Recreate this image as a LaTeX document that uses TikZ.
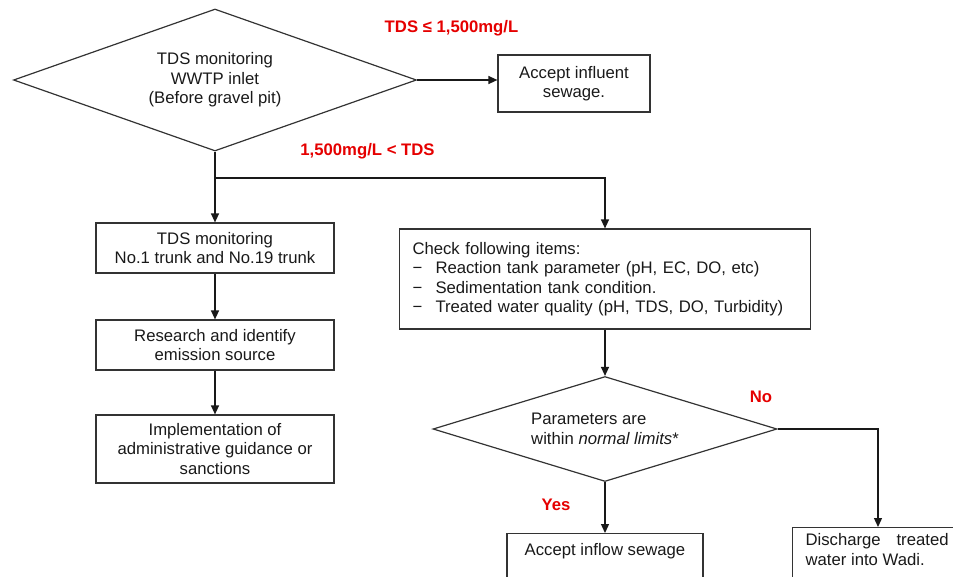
\documentclass[tikz,border=0pt]{standalone}
\usepackage{fontspec}
\setmainfont{Liberation Sans}
\usetikzlibrary{shapes.geometric,arrows.meta}
\begin{document}
\begin{tikzpicture}[x=1pt,y=-1pt,
  every node/.style={font=\fontsize{16.7}{19.5}\selectfont, text=black!90},
  box/.style={draw=black!80, line width=1.2pt, rectangle, inner sep=0pt, align=center},
  decision/.style={draw=black!80, line width=1.2pt, diamond, inner sep=0pt, align=center},
  cond/.style={text=red!90!black, font=\fontsize{16.7}{19.5}\selectfont\bfseries},
  plain/.style={draw=black!90, line width=1.3pt},
  flow/.style={plain, -{Triangle[length=9pt,width=8pt]}},
]
\useasboundingbox (0,0) rectangle (953,576);
\clip (0,0) rectangle (953,576);

% decisions
\node[decision, aspect=2.84, minimum width=403pt, minimum height=142pt] (d1) at (215,80)
  {TDS monitoring\\WWTP inlet\\(Before gravel pit)};
\node[decision, aspect=3.28, minimum width=344pt, minimum height=105pt, align=left] (d2) at (605,429)
  {Parameters are\\within \textit{normal limits}*};

% process boxes
\node[box, minimum width=152pt, minimum height=57pt] (acc1) at (574,83.5)
  {Accept influent\\sewage.};
\node[box, minimum width=238pt, minimum height=50pt] (b1) at (215,248)
  {TDS monitoring\\No.1 trunk and No.19 trunk};
\node[box, minimum width=238pt, minimum height=50pt] (b2) at (215,345)
  {Research and identify\\emission source};
\node[box, minimum width=238pt, minimum height=68pt] (b3) at (215,449)
  {Implementation of\\administrative guidance or\\sanctions};
\node[box, minimum width=411pt, minimum height=100pt, align=left, text width=385pt] (chk) at (605,279)
  {Check following items:\\
   \makebox[23pt][l]{−}Reaction tank parameter (pH, EC, DO, etc)\\
   \makebox[23pt][l]{−}Sedimentation tank condition.\\
   \makebox[23pt][l]{−}Treated water quality (pH, TDS, DO, Turbidity)};
\node[box, anchor=north, minimum width=196pt, inner ysep=10pt, text height=12pt, text depth=40pt] (acc2) at (605,533)
  {Accept inflow sewage};
\node[box, anchor=north west, text width=143pt, align=justify, inner xsep=13pt, inner ysep=6pt,
      text height=12pt, text depth=40pt] (dis) at (792,527)
  {Discharge treated water into Wadi.};

% branch conditions
\node[cond] (c1) at (451.5,28) {TDS ≤ 1,500mg/L};
\node[cond] (c2) at (367.5,151) {1,500mg/L < TDS};
\node[cond] (no) at (761,397) {No};
\node[cond] (yes) at (556,505) {Yes};

% connectors
\coordinate (split) at (215,178);
\coordinate (disin) at (878,527);
\draw[flow] (d1.east) -- (d1.east -| acc1.west);
\draw[flow] (d1.south) -- (b1.north);
\draw[flow] (split) -| (chk.north);
\draw[flow] (b1.south) -- (b2.north);
\draw[flow] (b2.south) -- (b3.north);
\draw[flow] (chk.south) -- (d2.north);
\draw[flow] (d2.south) -- (acc2.north);
\draw[flow] (d2.east) -| (disin);
\end{tikzpicture}
\end{document}
